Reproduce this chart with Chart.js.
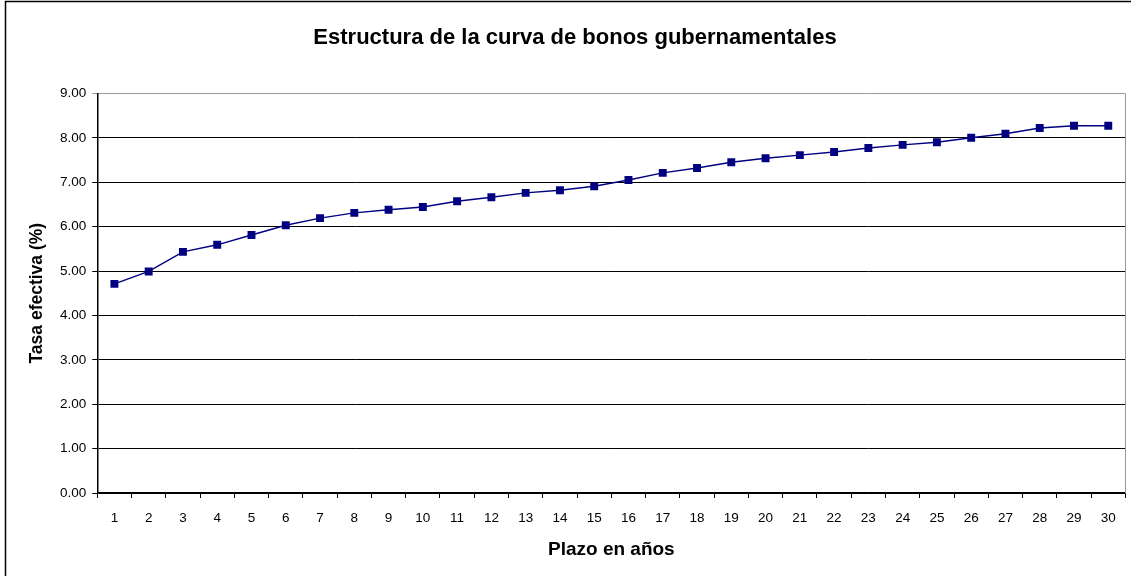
<!DOCTYPE html>
<html>
<head>
<meta charset="utf-8">
<script src="https://cdn.jsdelivr.net/npm/chart.js@4"></script>
<style>
  html, body { margin: 0; padding: 0; background: #fff; }
  #wrap { width: 1131px; height: 576px; position: relative; }
</style>
</head>
<body>
<div id="wrap"><canvas id="curveChart"></canvas></div>
<script>
// Data
const plazos = ['1','2','3','4','5','6','7','8','9','10','11','12','13','14','15','16','17','18','19','20','21','22','23','24','25','26','27','28','29','30'];
const tasas = [4.71,4.99,5.43,5.59,5.81,6.03,6.19,6.31,6.38,6.44,6.57,6.66,6.76,6.82,6.91,7.05,7.21,7.32,7.45,7.54,7.61,7.68,7.77,7.84,7.90,8.00,8.09,8.22,8.27,8.27];
const yTicks = [0,1,2,3,4,5,6,7,8,9];

Chart.defaults.font.family = "'Liberation Sans', Arial, sans-serif";
Chart.defaults.color = '#000';

// outer frame + gray right border of the plot
const frame = {
  id: 'frame',
  afterDraw(chart) {
    const { ctx, chartArea: a } = chart;
    ctx.save();
    ctx.strokeStyle = '#000';
    ctx.lineWidth = 1.5;
    ctx.beginPath();
    ctx.moveTo(5.5, 600); ctx.lineTo(5.5, 1.5); ctx.lineTo(1140, 1.5);
    ctx.stroke();
    ctx.strokeStyle = '#999';
    ctx.lineWidth = 1;
    ctx.beginPath();
    ctx.moveTo(Math.round(a.right) + 0.5, a.top);
    ctx.lineTo(Math.round(a.right) + 0.5, a.bottom);
    ctx.stroke();
    ctx.restore();
  }
};

const ctx = document.getElementById('curveChart');
new Chart(ctx, {
  type: 'line',
  data: {
    labels: plazos,
    datasets: [{
      label: 'Tasa',
      data: tasas,
      borderColor: '#000080',
      backgroundColor: '#000080',
      borderWidth: 1.4,
      tension: 0,
      pointStyle: 'rect',
      pointRadius: 5.6,
      pointHoverRadius: 5.6,
      pointBorderWidth: 0
    }]
  },
  options: {
    responsive: true,
    maintainAspectRatio: false,
    animation: false,
    layout: { padding: { left: 23, right: 4, top: 10, bottom: 11 } },
    plugins: {
      legend: { display: false },
      tooltip: { enabled: false },
      title: {
        display: true,
        text: 'Estructura de la curva de bonos gubernamentales',
        font: { size: 22, weight: 'bold' },
        color: '#000',
        padding: { top: 15, bottom: 42 }
      }
    },
    scales: {
      x: {
        offset: true,
        grid: { offset: true, drawOnChartArea: false, drawTicks: true, tickLength: 5, color: '#000' },
        border: { color: '#000', width: 1.5 },
        ticks: { font: { size: 13.5 }, color: '#000', maxRotation: 0, autoSkip: false, padding: 12 },
        title: { display: true, text: 'Plazo en años', font: { size: 19, weight: 'bold' }, color: '#000', padding: { top: 0 } }
      },
      y: {
        min: 0,
        max: 9,
        afterBuildTicks: axis => { axis.ticks = yTicks.map(v => ({ value: v })); },
        grid: {
          color: c => (c.tick && c.tick.value === 9) ? '#999' : '#000',
          lineWidth: 1,
          tickLength: 5
        },
        border: { color: '#000', width: 1.5 },
        ticks: { font: { size: 13.5 }, color: '#000', padding: 6, callback: v => Number(v).toFixed(2) },
        title: { display: true, text: 'Tasa efectiva (%)', font: { size: 17.5, weight: 'bold' }, color: '#000', padding: { bottom: 6 } }
      }
    }
  },
  plugins: [frame]
});
</script>
</body>
</html>
